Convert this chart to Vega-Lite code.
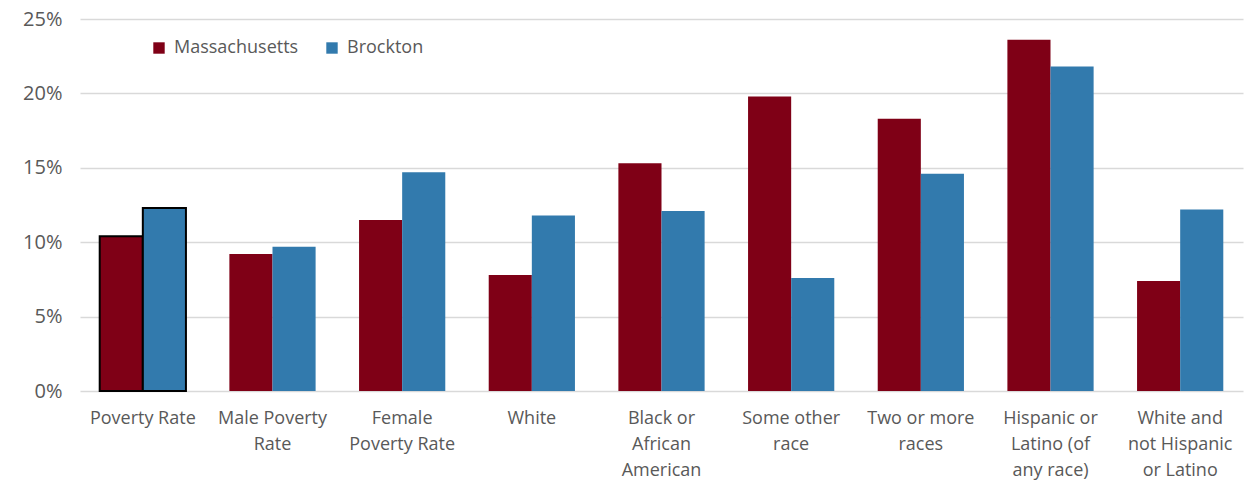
{
  "$schema": "https://vega.github.io/schema/vega-lite/v6.json",
  "width": 1163,
  "height": 372,
  "autosize": {"type": "none"},
  "padding": {"left": 80, "top": 19, "right": 8, "bottom": 102},
  "background": "white",
  "config": {
    "font": "Open Sans",
    "view": {"stroke": null}
  },
  "data": {
    "values": [
      {"category": "Poverty Rate", "area": "Massachusetts", "rate": 10.4},
      {"category": "Poverty Rate", "area": "Brockton", "rate": 12.3},
      {"category": "Male Poverty Rate", "area": "Massachusetts", "rate": 9.2},
      {"category": "Male Poverty Rate", "area": "Brockton", "rate": 9.7},
      {"category": "Female Poverty Rate", "area": "Massachusetts", "rate": 11.5},
      {"category": "Female Poverty Rate", "area": "Brockton", "rate": 14.7},
      {"category": "White", "area": "Massachusetts", "rate": 7.8},
      {"category": "White", "area": "Brockton", "rate": 11.8},
      {"category": "Black or African American", "area": "Massachusetts", "rate": 15.3},
      {"category": "Black or African American", "area": "Brockton", "rate": 12.1},
      {"category": "Some other race", "area": "Massachusetts", "rate": 19.8},
      {"category": "Some other race", "area": "Brockton", "rate": 7.6},
      {"category": "Two or more races", "area": "Massachusetts", "rate": 18.3},
      {"category": "Two or more races", "area": "Brockton", "rate": 14.6},
      {"category": "Hispanic or Latino (of any race)", "area": "Massachusetts", "rate": 23.6},
      {"category": "Hispanic or Latino (of any race)", "area": "Brockton", "rate": 21.8},
      {"category": "White and not Hispanic or Latino", "area": "Massachusetts", "rate": 7.4},
      {"category": "White and not Hispanic or Latino", "area": "Brockton", "rate": 12.2}
    ]
  },
  "mark": {"type": "bar"},
  "encoding": {
    "x": {
      "field": "category",
      "type": "nominal",
      "sort": null,
      "scale": {"paddingInner": 0.335, "paddingOuter": 0.152},
      "axis": {
        "title": null,
        "labelAngle": 0,
        "labelFontSize": 18,
        "labelColor": "#595959",
        "labelPadding": 18,
        "labelLineHeight": 26,
        "labelBaseline": "top",
        "labelLimit": 200,
        "ticks": false,
        "domain": false,
        "labelExpr": "datum.value === 'Male Poverty Rate' ? ['Male Poverty', 'Rate'] : datum.value === 'Female Poverty Rate' ? ['Female', 'Poverty Rate'] : datum.value === 'Black or African American' ? ['Black or', 'African', 'American'] : datum.value === 'Some other race' ? ['Some other', 'race'] : datum.value === 'Two or more races' ? ['Two or more', 'races'] : datum.value === 'Hispanic or Latino (of any race)' ? ['Hispanic or', 'Latino (of', 'any race)'] : datum.value === 'White and not Hispanic or Latino' ? ['White and', 'not Hispanic', 'or Latino'] : datum.value"
      }
    },
    "xOffset": {
      "field": "area",
      "type": "nominal",
      "sort": ["Massachusetts", "Brockton"],
      "scale": {"paddingInner": 0, "paddingOuter": 0}
    },
    "y": {
      "field": "rate",
      "type": "quantitative",
      "scale": {"domain": [0, 25]},
      "axis": {
        "title": null,
        "values": [0, 5, 10, 15, 20, 25],
        "labelExpr": "datum.value + '%'",
        "labelFontSize": 20,
        "labelColor": "#595959",
        "labelPadding": 18,
        "ticks": false,
        "domain": false,
        "gridColor": "#d9d9d9",
        "gridWidth": 1.5
      }
    },
    "color": {
      "field": "area",
      "type": "nominal",
      "sort": ["Massachusetts", "Brockton"],
      "scale": {"domain": ["Massachusetts", "Brockton"], "range": ["#7f0016", "#327aad"]},
      "legend": {
        "title": null,
        "orient": "none",
        "legendX": 70,
        "legendY": 20,
        "direction": "horizontal",
        "symbolType": "square",
        "symbolSize": 130,
        "symbolStrokeWidth": 0,
        "labelFontSize": 18,
        "labelColor": "#595959",
        "columnPadding": 24,
        "labelOffset": 6
      }
    },
    "stroke": {
      "condition": {"test": "datum.category === 'Poverty Rate'", "value": "black"},
      "value": null
    },
    "strokeWidth": {
      "condition": {"test": "datum.category === 'Poverty Rate'", "value": 2},
      "value": 0
    }
  }
}
